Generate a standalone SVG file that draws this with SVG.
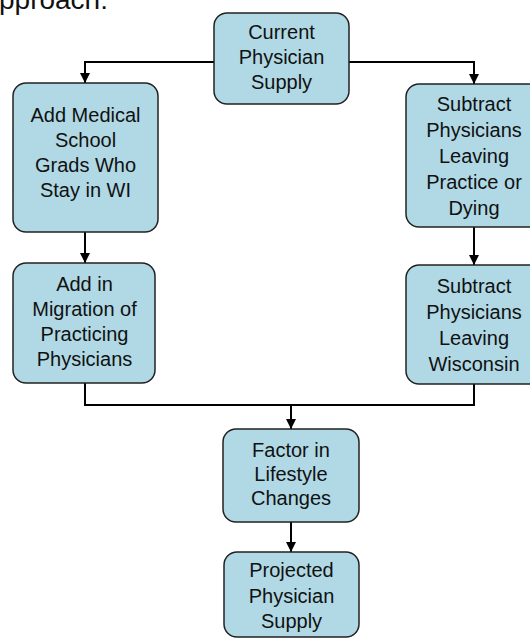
<svg xmlns="http://www.w3.org/2000/svg" width="530" height="639" viewBox="0 0 530 639">
<defs>
<marker id="arr" viewBox="0 0 10 10" refX="10" refY="5" markerWidth="10" markerHeight="10" markerUnits="userSpaceOnUse" orient="auto">
<path d="M0,0 L10,5 L0,10 Z" fill="#000"/>
</marker>
<style>
.box{fill:#b0d9e5;stroke:#222;stroke-width:1.5}
.t{font-family:"Liberation Sans",Arial,sans-serif;font-size:20px;fill:#111;text-anchor:middle}
.c{fill:none;stroke:#000;stroke-width:2}
</style>
</defs>
<rect width="530" height="639" fill="#fff"/>
<text x="-1" y="8.5" style="font-family:'Liberation Sans',Arial,sans-serif;font-size:28px;fill:#111">pproach:</text>
<g id="connectors">
<path class="c" d="M214,62 H85 V83" marker-end="url(#arr)"/>
<path class="c" d="M349,62 H474 V84" marker-end="url(#arr)"/>
<path class="c" d="M85,232 V263" marker-end="url(#arr)"/>
<path class="c" d="M474,227 V265" marker-end="url(#arr)"/>
<path class="c" d="M85,383 V405 H474 V384"/>
<path class="c" d="M291,405 V429" marker-end="url(#arr)"/>
<path class="c" d="M291,522 V552" marker-end="url(#arr)"/>
</g>
<g id="current">
<rect class="box" x="214" y="13" width="135" height="91" rx="13"/>
<text class="t"><tspan x="281.5" y="39">Current</tspan><tspan x="281.5" y="64">Physician</tspan><tspan x="281.5" y="89">Supply</tspan></text>
</g>
<g id="addgrads">
<rect class="box" x="13" y="83" width="145" height="149" rx="13"/>
<text class="t"><tspan x="85.5" y="122">Add Medical</tspan><tspan x="85.5" y="147">School</tspan><tspan x="85.5" y="172">Grads Who</tspan><tspan x="85.5" y="197">Stay in WI</tspan></text>
</g>
<g id="subleaving">
<rect class="box" x="406" y="84" width="136" height="143" rx="13"/>
<text class="t"><tspan x="474" y="111">Subtract</tspan><tspan x="474" y="137">Physicians</tspan><tspan x="474" y="163">Leaving</tspan><tspan x="474" y="189">Practice or</tspan><tspan x="474" y="215">Dying</tspan></text>
</g>
<g id="addmigration">
<rect class="box" x="13" y="263" width="142" height="120" rx="13"/>
<text class="t"><tspan x="84.5" y="291">Add in</tspan><tspan x="84.5" y="316">Migration of</tspan><tspan x="84.5" y="341">Practicing</tspan><tspan x="84.5" y="366">Physicians</tspan></text>
</g>
<g id="subwisconsin">
<rect class="box" x="406" y="265" width="136" height="119" rx="13"/>
<text class="t"><tspan x="474" y="293">Subtract</tspan><tspan x="474" y="319">Physicians</tspan><tspan x="474" y="345">Leaving</tspan><tspan x="474" y="371">Wisconsin</tspan></text>
</g>
<g id="lifestyle">
<rect class="box" x="223" y="429" width="136" height="93" rx="13"/>
<text class="t"><tspan x="291" y="457">Factor in</tspan><tspan x="291" y="481">Lifestyle</tspan><tspan x="291" y="505">Changes</tspan></text>
</g>
<g id="projected">
<rect class="box" x="224" y="552" width="135" height="85" rx="13"/>
<text class="t"><tspan x="291.5" y="577">Projected</tspan><tspan x="291.5" y="603">Physician</tspan><tspan x="291.5" y="628">Supply</tspan></text>
</g>
</svg>
